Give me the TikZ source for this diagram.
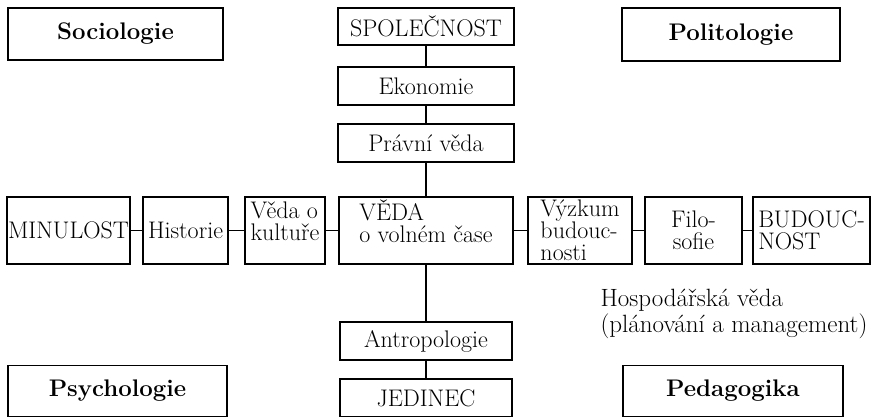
\documentclass[tikz,border=0pt]{standalone}
\begin{document}
\begin{tikzpicture}[x=1pt,y=-1pt,line width=1.1pt,
	box/.style={draw,inner sep=1pt,font=\fontsize{24}{22}\selectfont},
	bbox/.style={box,font=\fontsize{24}{22}\selectfont\bfseries},
	raised/.style={text depth=18pt}]
	\useasboundingbox (0,0) rectangle (876,416);
	% corner boxes
	\node[bbox,minimum width=215,minimum height=52] (soc) at (115.5,34) {Sociologie};
	\node[bbox,minimum width=218,minimum height=53] (pol) at (731,34.5) {Politologie};
	\node[bbox,minimum width=219,minimum height=51] (psy) at (117.5,391) {Psychologie};
	\node[bbox,minimum width=220,minimum height=51] (ped) at (733,391) {Pedagogika};

	% middle column
	\node[box,minimum width=176,minimum height=37] (spol) at (426,26.5) {SPOLEČNOST};
	\node[box,minimum width=176,minimum height=38] (eko) at (426,86) {Ekonomie};
	\node[box,minimum width=176,minimum height=38] (prav) at (426,143) {Právní věda};
	\node[box,raised,minimum width=174,minimum height=67,align=left] (veda) at (426,230.5) {VĚDA\\o volném čase};
	\node[box,minimum width=172,minimum height=38] (antr) at (426,341) {Antropologie};
	\node[box,minimum width=172,minimum height=38] (jed) at (426,398) {JEDINEC};

	% middle row
	\node[box,minimum width=123,minimum height=67,inner sep=0pt] (min) at (68.5,230.5) {MINULOST};
	\node[box,minimum width=85,minimum height=67] (hist) at (185.5,230.5) {Historie};
	\node[box,raised,minimum width=80,minimum height=67,align=left] (kult) at (285,230.5) {Věda o\\kultuře};
	\node[box,minimum width=104,minimum height=67,inner sep=0pt,align=left] (vyz) at (580,230.5) {Výzkum\\budouc-\\nosti};
	\node[box,minimum width=97,minimum height=67,align=center] (filo) at (693.5,230.5) {Filo-\\sofie};
	\node[box,minimum width=117,minimum height=67,align=left] (bud) at (811.5,230.5) {BUDOUC-\\NOST};

	\node[anchor=north west,inner sep=0pt,align=left,font=\fontsize{25}{26}\selectfont] (hosp) at (600,289) {Hospodářská věda\\(plánování a management)};

	\foreach \a/\b in {spol/eko,eko/prav,prav/veda,veda/antr,antr/jed}
		\draw (\a) -- (\b);
	\foreach \a/\b in {min/hist,hist/kult,kult/veda,veda/vyz,vyz/filo,filo/bud}
		\draw (\a) -- (\b);
\end{tikzpicture}
\end{document}
